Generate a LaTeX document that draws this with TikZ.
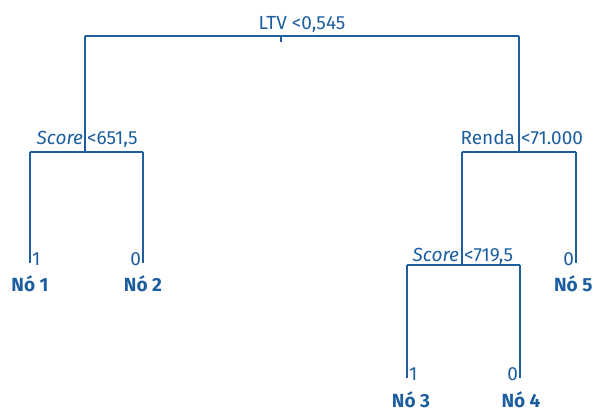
\documentclass[tikz,border=0pt]{standalone}
\usepackage{fontspec}
\setmainfont{Fira Sans}
\definecolor{treeblue}{RGB}{28,94,160}
\begin{document}
\begin{tikzpicture}[x=1pt,y=-1pt,
  lbl/.style={inner sep=0pt,outer sep=0pt,text=treeblue,font=\fontsize{19}{21}\selectfont},
  nodelbl/.style={lbl,font=\fontsize{19}{21}\selectfont\bfseries},
  link/.style={draw=treeblue,line width=1.2pt}]
\useasboundingbox (0,0) rectangle (593,411);
% split points
\coordinate (r) at (281,36);
\coordinate (rL) at (85,36);
\coordinate (rR) at (519,36);
\coordinate (aL) at (30,152);
\coordinate (aR) at (143,152);
\coordinate (aM) at (85,152);
\coordinate (bL) at (462,152);
\coordinate (bR) at (576,152);
\coordinate (bM) at (519,152);
\coordinate (cL) at (407,265);
\coordinate (cR) at (520,265);
\coordinate (cM) at (462,265);
\coordinate (l1) at (30,263);
\coordinate (l2) at (143,263);
\coordinate (l5) at (576,263);
\coordinate (l3) at (407,378);
\coordinate (l4) at (520,378);
\coordinate (rt) at (281,42);
% texts
\node[lbl,anchor=base] (root) at (302,30) {LTV <0,545};
\node[lbl,anchor=base east] (s1a) at (83,145) {\itshape Score};
\node[lbl,anchor=base west] (s1b) at (87,145) {<651,5};
\node[lbl,anchor=base east] (s2a) at (515,145) {Renda};
\node[lbl,anchor=base west] (s2b) at (521,145) {<71.000};
\node[lbl,anchor=base east] (s3a) at (459,261) {\itshape Score};
\node[lbl,anchor=base west] (s3b) at (464,261) {<719,5};
\node[lbl,anchor=base west] (v1) at (32,265) {1};
\node[lbl,anchor=base east] (v2) at (141,265) {0};
\node[lbl,anchor=base east] (v5) at (574,265) {0};
\node[lbl,anchor=base west] (v3) at (409,380) {1};
\node[lbl,anchor=base east] (v4) at (518,380) {0};
\node[nodelbl,anchor=base] (n1) at (30,291) {Nó 1};
\node[nodelbl,anchor=base] (n2) at (143,291) {Nó 2};
\node[nodelbl,anchor=base east] (n5) at (592.5,291) {Nó 5};
\node[nodelbl,anchor=base] (n3) at (411,407) {Nó 3};
\node[nodelbl,anchor=base] (n4) at (521,407) {Nó 4};
% connectors
\draw[link] (rL) -- (rR);
\draw[link] (r) -- (rt);
\draw[link] (rL) -- (aM);
\draw[link] (rR) -- (bM);
\draw[link] (aL) -- (aR);
\draw[link] (aL) -- (l1);
\draw[link] (aR) -- (l2);
\draw[link] (bL) -- (bR);
\draw[link] (bL) -- (cM);
\draw[link] (bR) -- (l5);
\draw[link] (cL) -- (cR);
\draw[link] (cL) -- (l3);
\draw[link] (cR) -- (l4);
\end{tikzpicture}
\end{document}
